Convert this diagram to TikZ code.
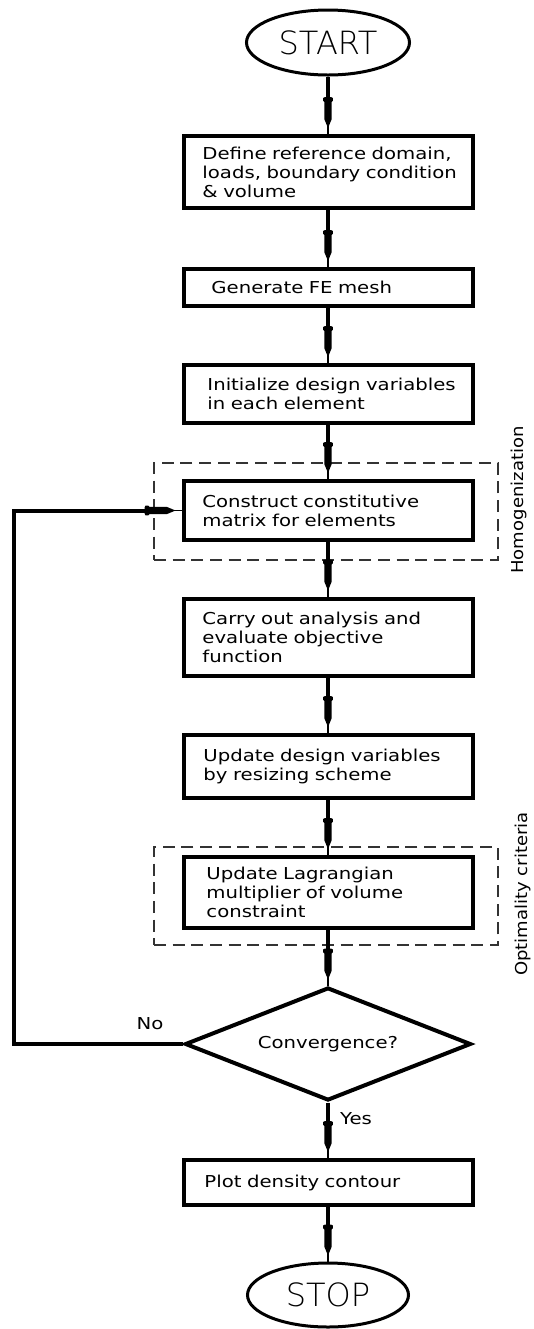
\documentclass[tikz,border=0pt]{standalone}
\usepackage{fontspec}
\setmainfont{DejaVu Sans}
\newfontfamily\cadfont[FakeStretch=1.2]{DejaVu Sans}
\newfontfamily\lblfont[FakeStretch=1.1]{DejaVu Sans}
\newfontfamily\thinfont{DejaVu Sans ExtraLight}
\usetikzlibrary{shapes.geometric,decorations.markings}
\tikzset{
  box/.style={draw, line width=3pt, rectangle, minimum width=216.75pt,
    text width=200pt, inner xsep=8.375pt, inner ysep=0pt, align=left,
    font=\cadfont\fontsize{12.3pt}{14.25pt}\selectfont},
  term/.style={draw, ellipse, line width=2.25pt, minimum width=122.25pt,
    minimum height=48.75pt, inner sep=0pt,
    font=\thinfont\fontsize{24pt}{24pt}\selectfont},
  decision/.style={draw, diamond, shape aspect=2.53, line width=3pt,
    minimum width=214.5pt, minimum height=84.75pt, inner sep=0pt,
    font=\cadfont\fontsize{12.3pt}{14.25pt}\selectfont},
  dashbox/.style={draw=black!80, line width=1.1pt, dash pattern=on 9pt off 5pt,
    rectangle, minimum width=258pt, inner sep=0pt},
  lbl/.style={inner sep=0pt, font=\cadfont\fontsize{12.3pt}{14.25pt}\selectfont},
  sidelbl/.style={inner sep=0pt, rotate=90, font=\lblfont\fontsize{12.3pt}{14.25pt}\selectfont},
  flow/.style={line width=0.9pt,
    postaction={draw, line width=3pt, shorten >=12pt},
    postaction={decorate},
    decoration={markings, mark=at position -4.5pt with {
      \fill (-23.25pt,-2.2pt) -- (-22.5pt,-3.7pt) -- (-20.5pt,-3.7pt)
        -- (-19.5pt,-2.7pt) -- (-6.5pt,-2.7pt) -- (0pt,0pt)
        -- (-6.5pt,2.7pt) -- (-19.5pt,2.7pt) -- (-20.5pt,3.7pt)
        -- (-22.5pt,3.7pt) -- (-23.25pt,2.2pt) -- cycle;}}},
}
\begin{document}
\begin{tikzpicture}[x=0.75pt,y=-0.75pt]
\useasboundingbox (0,0) rectangle (534,1329);

% dashed group frames
\node[dashbox, minimum height=72.75pt] (d1) at (326,511.5) {};
\node[dashbox, minimum height=73.5pt] (d2) at (326,896) {};

% terminals
\node[term] (start) at (328,42.5) {START};
\node[term, minimum width=120.75pt, minimum height=48pt] (stop) at (328,1295) {STOP};

% process boxes
\node[box, minimum height=54pt] (b1) at (328,172)
  {\hspace*{5.85pt}Define reference domain,\\\hspace*{5.85pt}loads, boundary condition\\\hspace*{5.85pt}\& volume};
\node[box, minimum height=27.75pt] (b2) at (328,287.5)
  {\hspace*{12.6pt}Generate FE mesh};
\node[box, minimum height=43.5pt] (b3) at (328,394)
  {\hspace*{9.6pt}Initialize design variables\\\hspace*{9.6pt}in each element};
\node[box, minimum height=44.25pt] (b4) at (328,510.5)
  {\hspace*{5.85pt}Construct constitutive\\\hspace*{5.85pt}matrix for elements};
\node[box, minimum height=57.75pt] (b5) at (328,637)
  {\hspace*{5.85pt}Carry out analysis and\\\hspace*{5.85pt}evaluate objective\\\hspace*{5.85pt}function};
\node[box, minimum height=47.25pt] (b6) at (328,766.5)
  {\hspace*{6.6pt}Update design variables\\\hspace*{6.6pt}by resizing scheme};
\node[box, minimum height=53.25pt] (b7) at (328,892.5)
  {\hspace*{8.85pt}Update Lagrangian\\\hspace*{8.85pt}multiplier of volume\\\hspace*{8.85pt}constraint};
\node[decision] (dec) at (328,1044) {Convergence?};
\node[box, minimum height=33.75pt] (b8) at (328,1182.5)
  {\hspace*{7.35pt}Plot density contour};

% labels
\node[lbl] (no) at (150,1024) {No};
\node[lbl] (yes) at (356,1119) {Yes};
\node[sidelbl] (hom) at (519,500) {Homogenization};
\node[sidelbl] (opt) at (523,894) {Optimality criteria};

\coordinate (fb) at (14,777);

% connectors
\draw[flow] (start) -- (b1);
\draw[flow] (b1) -- (b2);
\draw[flow] (b2) -- (b3);
\draw[flow] (b3) -- (b4);
\draw[flow] (b4) -- (b5);
\draw[flow] (b5) -- (b6);
\draw[flow] (b6) -- (b7);
\draw[flow] (b7) -- (dec);
\draw[flow] (dec) -- (b8);
\draw[flow] (b8) -- (stop);
\draw[flow] (dec.west) -| (fb) |- (b4.west);
\end{tikzpicture}
\end{document}
